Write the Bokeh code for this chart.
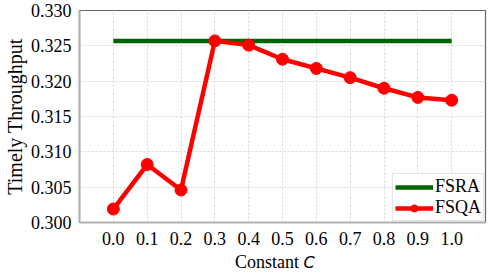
from bokeh.plotting import figure
from bokeh.models import Range1d, FixedTicker, Legend, LegendItem, NumeralTickFormatter, Div
from bokeh.layouts import column
from bokeh.embed import file_html
from bokeh.resources import INLINE

c_values = [0.0, 0.1, 0.2, 0.3, 0.4, 0.5, 0.6, 0.7, 0.8, 0.9, 1.0]
fsqa = [0.3019, 0.3082, 0.3046, 0.3257, 0.3251, 0.3231, 0.3218, 0.3205, 0.3190, 0.3177, 0.3173]
fsra = [0.3257] * len(c_values)
y_ticks = [0.300, 0.305, 0.310, 0.315, 0.320, 0.325, 0.330]

SERIF = "Liberation Serif"

p = figure(width=490, height=247, output_backend="svg", toolbar_location=None,
           x_range=Range1d(-0.1, 1.1), y_range=Range1d(0.300, 0.330),
           min_border_left=59, min_border_top=10, min_border_right=5, min_border_bottom=21)

p.outline_line_color = "#666666"
p.outline_line_width = 1.2

for ax in (p.xaxis[0], p.yaxis[0]):
    ax.axis_line_color = "#b0b0b0"
    ax.axis_line_width = 2
    ax.major_tick_line_color = None
    ax.minor_tick_line_color = None
    ax.major_label_text_font = SERIF
    ax.major_label_text_font_size = "18px"
    ax.major_label_text_color = "black"

p.xaxis.ticker = FixedTicker(ticks=c_values)
p.xaxis.formatter = NumeralTickFormatter(format="0.0")
p.xaxis.major_label_standoff = 3
p.yaxis.ticker = FixedTicker(ticks=y_ticks)
p.yaxis.formatter = NumeralTickFormatter(format="0.000")
p.yaxis.major_label_standoff = 2
p.yaxis.axis_label = "Timely Throughput"
p.yaxis.axis_label_text_font = SERIF
p.yaxis.axis_label_text_font_size = "20px"
p.yaxis.axis_label_text_font_style = "normal"
p.yaxis.axis_label_text_color = "black"
p.yaxis.axis_label_standoff = 2

p.xgrid.grid_line_color = "#d6d6d6"
p.ygrid.grid_line_color = "#d6d6d6"
p.xgrid.grid_line_dash = "2 2"
p.ygrid.grid_line_dash = "2 2"

r_fsra = p.line(c_values, fsra, line_color="#006400", line_width=4.5)
r_fsqa_line = p.line(c_values, fsqa, line_color="#ff0000", line_width=4.5)
r_fsqa_pts = p.scatter(c_values, fsqa, size=12, fill_color="#ff0000", line_color="#ff0000")

legend = Legend(items=[LegendItem(label="FSRA", renderers=[r_fsra]),
                       LegendItem(label="FSQA", renderers=[r_fsqa_line, r_fsqa_pts])],
                location="bottom_right")
legend.label_text_font = SERIF
legend.label_text_font_size = "18px"
legend.label_text_color = "black"
legend.border_line_color = "#cccccc"
legend.background_fill_alpha = 0.9
legend.margin = 1
legend.padding = 2
legend.spacing = 0
legend.glyph_width = 38
legend.glyph_height = 18
legend.label_standoff = 2
legend.label_height = 18
p.add_layout(legend)

xlabel = Div(text=('<div style="font-family:\'Liberation Serif\',serif;font-size:18px;line-height:20px;'
                   'padding-left:230px;color:black;white-space:nowrap">Constant '
                   '<span style="font-family:\'DejaVu Sans\',sans-serif;font-style:italic;font-size:16px">C</span></div>'),
             width=490, height=20)

layout = column(p, xlabel, spacing=0)

open("out.html", "w").write(file_html(layout, INLINE))
